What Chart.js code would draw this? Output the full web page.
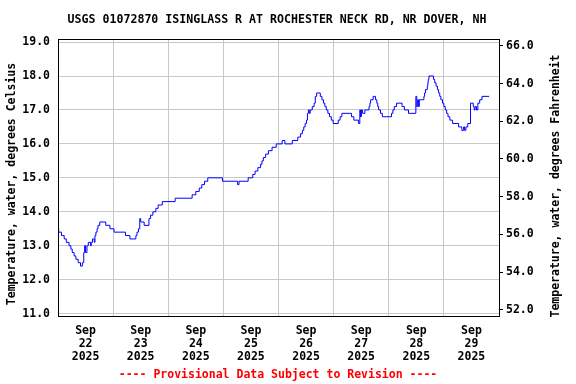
<!DOCTYPE html>
<html>
<head>
<meta charset="utf-8">
<script src="https://cdn.jsdelivr.net/npm/chart.js@4"></script>
<style>
	body { margin: 0; background: #fff; }
	canvas { display: block; }
</style>
</head>
<body>
<canvas id="chart" width="576" height="384"></canvas>
<script>
// hours since Sep 22 2025 00:00, water temperature (deg C) at each change
const hours = [
	0, 0.3, 1.5, 2.7, 3.6, 4.8, 5.6, 6.2, 7.0, 7.8, 8.8, 9.8, 10.6, 11.2, 11.6, 12.0,
	12.6, 13.2, 14.2, 14.5, 15.0, 15.8, 16.1, 16.5, 17.0, 17.4, 18.2, 20.8, 22.6, 24.4,
	29.4, 31.3, 33.9, 34.4, 35.0, 35.6, 36.0, 37.5, 39.6, 40.3, 41.3, 42.6, 43.6, 45.4,
	51.0, 58.4, 60.0, 61.5, 62.6, 63.8, 65.2, 71.6, 78.2, 78.8, 82.8, 84.8, 85.8, 87.0,
	88.2, 88.8, 89.4, 90.4, 91.6, 93.2, 95.0, 97.6, 98.8, 102.0, 104.4, 105.6, 106.4,
	107.0, 107.6, 108.2, 108.6, 109.0, 109.4, 109.8, 110.7, 111.5, 112.0, 112.6, 114.2,
	114.9, 115.6, 116.2, 116.8, 117.5, 118.2, 119.0, 119.8, 122.0, 122.8, 123.6, 127.8,
	128.8, 130.8, 131.4, 131.7, 132.1, 132.6, 133.6, 135.4, 135.8, 136.1, 137.2, 138.2,
	138.8, 139.2, 139.6, 140.4, 141.2, 145.2, 145.8, 146.4, 147.4, 149.8, 150.8, 152.6,
	155.8, 156.2, 156.6, 157.0, 157.3, 159.3, 159.6, 160.0, 160.8, 161.0, 161.2, 161.5,
	163.5, 164.0, 164.6, 165.2, 165.7, 166.2, 166.7, 167.4, 168.0, 168.6, 169.2, 169.8,
	170.6, 171.8, 174.4, 175.8, 176.6, 177.0, 177.6, 178.4, 179.6, 180.8, 181.2, 181.6,
	182.2, 182.8, 183.6, 184.6, 187.7,
];
const tempC = [
	13.5, 13.4, 13.3, 13.2, 13.1, 13.0, 12.9, 12.8, 12.7, 12.6, 12.5, 12.4, 12.5, 12.8, 13.0, 12.8,
	13.0, 13.1, 13.0, 13.1, 13.2, 13.1, 13.3, 13.4, 13.5, 13.6, 13.7, 13.6, 13.5, 13.4,
	13.3, 13.2, 13.3, 13.4, 13.5, 13.8, 13.7, 13.6, 13.8, 13.9, 14.0, 14.1, 14.2, 14.3,
	14.4, 14.5, 14.6, 14.7, 14.8, 14.9, 15.0, 14.9, 14.8, 14.9, 15.0, 15.1, 15.2, 15.3,
	15.4, 15.5, 15.6, 15.7, 15.8, 15.9, 16.0, 16.1, 16.0, 16.1, 16.2, 16.3, 16.4,
	16.5, 16.6, 16.7, 16.9, 17.0, 16.9, 17.0, 17.1, 17.2, 17.4, 17.5, 17.4,
	17.3, 17.2, 17.1, 17.0, 16.9, 16.8, 16.7, 16.6, 16.7, 16.8, 16.9, 16.8,
	16.7, 16.6, 17.0, 16.8, 17.0, 16.9, 17.0, 17.1, 17.2, 17.3, 17.4, 17.3,
	17.2, 17.1, 17.0, 16.9, 16.8, 16.9, 17.0, 17.1, 17.2, 17.1, 17.0, 16.9,
	17.4, 17.1, 17.3, 17.1, 17.3, 17.4, 17.5, 17.6, 17.7, 17.8, 17.9, 18.0,
	17.9, 17.8, 17.7, 17.6, 17.5, 17.4, 17.3, 17.2, 17.1, 17.0, 16.9, 16.8,
	16.7, 16.6, 16.5, 16.4, 16.5, 16.4, 16.5, 16.6, 17.2, 17.1, 17.0, 17.1,
	17.0, 17.2, 17.3, 17.4, 17.4,
];

// axis ticks
const celsiusTicks = [11, 12, 13, 14, 15, 16, 17, 18, 19];
const fahrenheitTicks = [52, 54, 56, 58, 60, 62, 64, 66];
const dayLabels = [
	['Sep', '22', '2025'], ['Sep', '23', '2025'], ['Sep', '24', '2025'], ['Sep', '25', '2025'],
	['Sep', '26', '2025'], ['Sep', '27', '2025'], ['Sep', '28', '2025'], ['Sep', '29', '2025'],
];

const titleText = 'USGS 01072870 ISINGLASS R AT ROCHESTER NECK RD, NR DOVER, NH';
const leftTitle = 'Temperature, water, degrees Celsius';
const rightTitle = 'Temperature, water, degrees Fahrenheit';
const footerText = '---- Provisional Data Subject to Revision ----';

const cMin = 10.93, cMax = 19.09;
const mono = 'DejaVu Sans Mono';

const extras = {
	id: 'extras',
	afterDraw(chart) {
		const c = chart.ctx;
		const a = chart.chartArea;
		c.save();
		// frame
		c.strokeStyle = '#000';
		c.lineWidth = 1;
		c.strokeRect(Math.round(a.left) + 0.5, Math.round(a.top) + 0.5,
			Math.round(a.right - a.left), Math.round(a.bottom - a.top));

		c.fillStyle = '#000';
		c.textAlign = 'center';
		c.textBaseline = 'middle';
		c.font = 'bold 11.6px "' + mono + '"';
		c.fillText(titleText, 277, 20);

		c.font = 'bold 11.5px "' + mono + '"';
		c.save();
		c.translate(12, 184);
		c.rotate(-Math.PI / 2);
		c.fillText(leftTitle, 0, 0);
		c.restore();

		c.save();
		c.translate(556, 186);
		c.rotate(-Math.PI / 2);
		c.fillText(rightTitle, 0, 0);
		c.restore();

		c.fillStyle = '#ff0000';
		c.fillText(footerText, 278, 375);
		c.restore();
	},
};

const chart = new Chart(document.getElementById('chart'), {
	type: 'line',
	data: {
		datasets: [
			{
				data: hours.map((h, i) => ({ x: h, y: tempC[i] })),
				borderColor: '#0000ff',
				borderWidth: 1,
				pointRadius: 0,
				stepped: 'before',
				yAxisID: 'y',
			},
		],
	},
	options: {
		responsive: false,
		animation: false,
		layout: { padding: { top: 39, left: 0, right: 0, bottom: 0 } },
		plugins: {
			legend: { display: false },
			tooltip: { enabled: false },
			title: { display: false },
		},
		scales: {
			x: {
				type: 'linear',
				min: 0,
				max: 192,
				afterBuildTicks: scale => {
					const t = [];
					for (let v = 0; v <= 192; v += 12) t.push({ value: v });
					scale.ticks = t;
				},
				afterFit: scale => { scale.height = 68; },
				grid: {
					color: ctx => (ctx.tick && ctx.tick.value % 24 === 0 ? '#c8c8c8' : 'rgba(0,0,0,0)'),
					drawTicks: false,
				},
				border: { display: false },
				ticks: {
					autoSkip: false,
					maxRotation: 0,
					padding: 9,
					color: '#000',
					font: { family: mono, size: 11.5, weight: 'bold', lineHeight: 1.12 },
					callback: v => (v % 24 === 12 ? dayLabels[(v - 12) / 24] : ''),
				},
			},
			y: {
				position: 'left',
				min: cMin,
				max: cMax,
				afterBuildTicks: scale => {
					scale.ticks = celsiusTicks.map(v => ({ value: v }));
				},
				afterFit: scale => { scale.width = 58; },
				grid: { color: '#c8c8c8', drawTicks: false },
				border: { display: false },
				ticks: {
					padding: 8,
					color: '#000',
					font: { family: mono, size: 11.5, weight: 'bold' },
					callback: v => v.toFixed(1),
				},
			},
			yF: {
				display: true,
				position: 'right',
				min: cMin * 1.8 + 32,
				max: cMax * 1.8 + 32,
				afterBuildTicks: scale => {
					scale.ticks = fahrenheitTicks.map(v => ({ value: v }));
				},
				afterFit: scale => { scale.width = 77; },
				grid: { drawOnChartArea: false, drawTicks: true, tickLength: 4, tickColor: '#000' },
				border: { display: false },
				ticks: {
					padding: 3,
					color: '#000',
					font: { family: mono, size: 11.5, weight: 'bold' },
					callback: v => v.toFixed(1),
				},
			},
		},
	},
	plugins: [extras],
});
</script>
</body>
</html>
